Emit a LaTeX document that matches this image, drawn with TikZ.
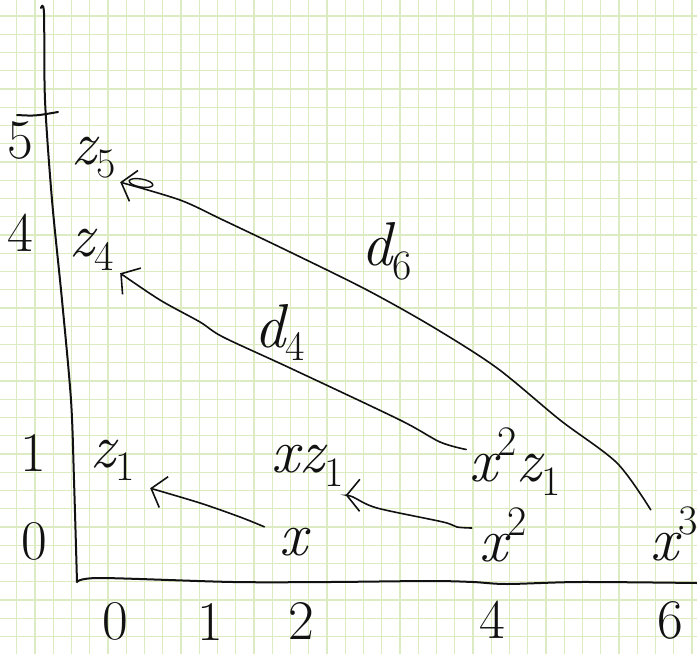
\documentclass[tikz,border=0pt]{standalone}
\usepackage{tikz}
\usetikzlibrary{arrows.meta,calc}
\definecolor{gridgreen}{RGB}{221,235,194}
\definecolor{ink}{RGB}{17,17,17}
\newcommand{\lowidx}[1]{\raisebox{-0.22em}{\fontsize{42}{42}\selectfont\upshape #1}}
\newcommand{\highidx}[1]{\raisebox{0.42em}{\fontsize{42}{42}\selectfont\upshape #1}}

\begin{document}
\begin{tikzpicture}[x=1pt,y=-1pt,
    every node/.style={font=\fontsize{62}{62}\selectfont\itshape, text=ink, inner sep=0pt},
    numlabel/.style={font=\fontsize{56}{56}\selectfont},
    gridline/.style={gridgreen, line width=1.3pt},
    axisline/.style={ink, line width=2pt, line cap=round, line join=round},
    arrowline/.style={ink, line width=1.6pt, line cap=round, -{Straight Barb[length=13pt,width=32pt]}}]
    \useasboundingbox (0,0) rectangle (697,654);
    \fill[white] (0,0) rectangle (697,654);
    \foreach \k in {0,...,37}
        \draw[gridline] ({16.7+18.25*\k},0) -- ++(0,654);
    \foreach \k in {0,...,35}
        \draw[gridline] (0,{16+18.25*\k}) -- ++(697,0);

    \draw[axisline] plot[smooth, tension=0.5] coordinates {(41,8) (44,13) (45,100) (52,200) (62,300) (71,400) (74,480) (77,582)};
    \draw[axisline] plot[smooth, tension=0.5] coordinates {(77,582) (100,578) (233,582) (330,582) (430,581) (473,582) (507,584) (580,582) (697,583)};
    \draw[axisline] (17,115) .. controls (35,116) .. (58,112);

    \node[numlabel] (ylab5) at (20,140) {5};
    \node[numlabel] (ylab4) at (20,233) {4};
    \node[numlabel] (ylab1) at (33,453) {1};
    \node[numlabel] (ylab0) at (34,541) {0};
    \node[numlabel] (xlab0) at (115,621) {0};
    \node[numlabel] (xlab1) at (210,622) {1};
    \node[numlabel] (xlab2) at (301,621) {2};
    \node[numlabel] (xlab4) at (492,620) {4};
    \node[numlabel] (xlab6) at (670,620) {6};

    \node[minimum width=72, minimum height=51] (z5) at (94,157.5) {z\lowidx{5}};
    \node[minimum width=47, minimum height=56] (z4) at (91.5,250) {z\lowidx{4}};
    \node[minimum width=49, minimum height=55] (z1) at (112.5,460.5) {z\lowidx{1}};
    \node[minimum width=27, minimum height=50] (x) at (293.5,542) {x};
    \node[minimum width=71, minimum height=52] (xz1) at (307.5,466) {xz\lowidx{1}};
    \node[minimum width=60, minimum height=66] (x2) at (503,535) {x\highidx{2}};
    \node[minimum width=84, minimum height=77] (x2z1) at (515,461.5) {x\highidx{2}z\lowidx{1}};
    \node[minimum width=45, minimum height=68] (x3) at (674.5,534) {x\highidx{3}};
    \node[minimum width=47, minimum height=62] (d6) at (386.5,251) {d\lowidx{6}};
    \node[minimum width=40, minimum height=49] (d4) at (280,332.5) {d\lowidx{4}};

    \draw[arrowline] plot[smooth, tension=0.5] coordinates {([shift={(-15,10)}]x.north west) (240,517) (200,503) ([shift={(13,0)}]z1.south east)};
    \draw[arrowline] plot[smooth, tension=0.5] coordinates {([shift={(-1,-7)}]x2.west) (457,527) (443,522) (377,508) (353,497) ([shift={(2,3)}]xz1.south east)};
    \draw[arrowline] plot[smooth, tension=0.5] coordinates {([shift={(-3,-12)}]x2z1.west) (440,442) (400,420) (290,368) (223,337) (200,322) (160,300) ([shift={(5,-5)}]z4.south east)};
    \draw[arrowline] plot[smooth, tension=0.5] coordinates {([shift={(0,10)}]x3.north west) (617,463) (560,420) (497,368) (433,327) (367,290) (290,252) (223,220) (180,200) ([shift={(-10,-1)}]z5.south east)};
    \draw[ink, line width=1.4pt] (141,183) ellipse [x radius=12, y radius=4, rotate=-10];
\end{tikzpicture}
\end{document}
